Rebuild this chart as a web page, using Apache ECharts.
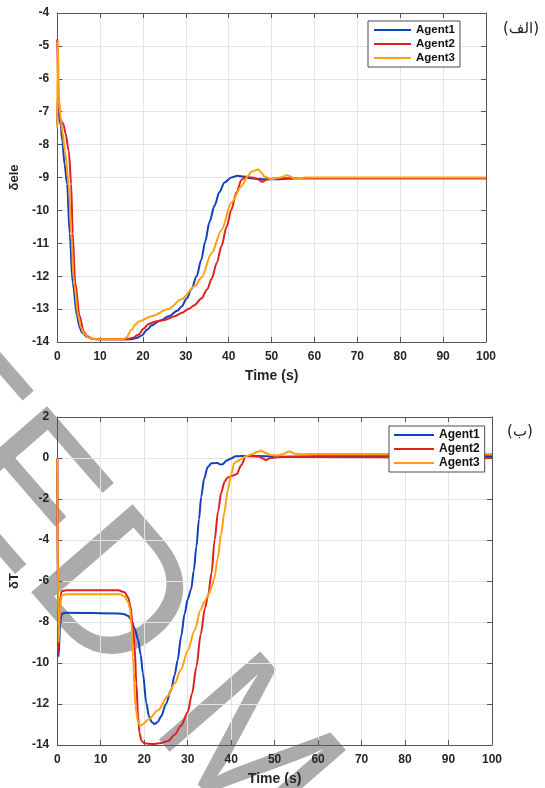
<!DOCTYPE html>
<html><head><meta charset="utf-8">
<script src="https://cdn.jsdelivr.net/npm/echarts@6/dist/echarts.min.js"></script>
<style>html,body{margin:0;padding:0;background:#fff}#c{width:545px;height:788px}</style>
</head><body><div id="c"></div><script>
// Elevator deflection δele (top panel), [time s, value]
const eleAgent1 = [[0,-7.4],[0.15,-6.4],[0.35,-7.0],[0.8,-7.4],[1.2,-7.9],[1.7,-8.6],[2.3,-9.2],[2.9,-10.7],[3.6,-12.2],[4.6,-13.2],[5.2,-13.55],[5.8,-13.72],[7,-13.85],[8.5,-13.91],[10,-13.92],[17,-13.92],[18.5,-13.88],[19.7,-13.8],[21,-13.62],[22,-13.5],[24,-13.35],[26,-13.22],[28,-13.05],[29,-12.92],[30.2,-12.68],[31.3,-12.4],[32.5,-12.0],[33.6,-11.5],[34.5,-10.95],[35.5,-10.35],[36.7,-9.85],[37.8,-9.45],[39,-9.15],[40.6,-9.0],[42,-8.95],[43.5,-8.97],[45,-9.02],[48,-9.05],[52,-9.05],[55,-9.03],[60,-9.02],[100,-9.02]];
const eleAgent2 = [[0,-4.8],[0.3,-6.5],[0.6,-7.2],[1.0,-7.3],[1.5,-7.4],[1.9,-7.65],[2.7,-8.2],[3.25,-9.2],[3.6,-10.7],[4.2,-12.2],[5.2,-13.2],[6.2,-13.7],[7,-13.82],[8.1,-13.9],[10,-13.92],[16,-13.92],[17.5,-13.88],[19,-13.77],[20.1,-13.6],[21.3,-13.45],[23,-13.38],[25,-13.33],[27.4,-13.22],[29,-13.12],[30.6,-13.0],[32,-12.88],[33.6,-12.68],[35,-12.4],[36,-12.08],[37.2,-11.6],[38.3,-11.09],[39.5,-10.5],[40.6,-9.98],[41.8,-9.45],[43,-9.07],[44,-8.98],[45.5,-9.0],[46.8,-9.05],[47.8,-9.13],[49,-9.05],[51,-9.02],[100,-9.02]];
const eleAgent3 = [[0,-7.5],[0.12,-4.85],[0.4,-6.6],[0.8,-7.2],[1.2,-7.6],[1.8,-8.2],[2.7,-9.2],[3.25,-10.7],[3.9,-12.2],[4.9,-13.2],[5.5,-13.55],[6.2,-13.75],[7.5,-13.88],[9,-13.92],[15,-13.92],[16,-13.88],[17.4,-13.62],[18.2,-13.47],[19,-13.38],[22,-13.22],[25.9,-13.0],[29,-12.7],[32.1,-12.3],[33.6,-12.05],[36,-11.3],[38.3,-10.6],[40.6,-9.77],[43,-9.26],[44.5,-8.95],[45.3,-8.82],[46.9,-8.76],[47.6,-8.85],[48.3,-8.97],[50,-9.05],[52,-9.0],[53.6,-8.93],[55.5,-9.03],[58,-9.0],[100,-9.0]];

// Throttle δT (bottom panel), [time s, value]
const thrAgent1 = [[0,0],[0.3,-9.7],[0.7,-8.0],[1.0,-7.6],[2,-7.55],[14,-7.58],[15.4,-7.62],[16.3,-7.7],[17,-7.9],[17.8,-8.3],[18.6,-8.87],[19.2,-9.6],[19.7,-10.5],[20.5,-11.96],[21.1,-12.6],[21.7,-12.88],[22.4,-12.97],[23.1,-12.88],[23.9,-12.6],[25,-12.0],[26.2,-11.3],[27,-10.6],[27.7,-9.85],[28.5,-8.7],[29.3,-7.6],[30,-6.9],[30.8,-6.4],[31.4,-5.5],[32,-4.33],[32.6,-3.0],[33.1,-1.9],[33.8,-1.0],[34.6,-0.44],[35.5,-0.26],[36.9,-0.24],[37.5,-0.32],[38,-0.3],[39,-0.12],[40,-0.02],[41,0.08],[42.3,0.1],[46,0.1],[50,0.06],[60,0.08],[100,0.08]];
const thrAgent2 = [[0,0],[0.25,-9.5],[0.6,-7.0],[1.0,-6.5],[2,-6.45],[14,-6.45],[15.5,-6.55],[16.3,-6.8],[16.8,-7.2],[17.3,-8.0],[17.8,-9.2],[18.2,-11.0],[18.6,-12.6],[18.9,-13.4],[19.4,-13.8],[20.1,-13.92],[22,-13.95],[24,-13.9],[25.5,-13.8],[27,-13.5],[28.5,-13.05],[30,-12.4],[31,-11.5],[32,-10.2],[33,-8.6],[34,-7.3],[34.7,-6.7],[35.5,-5.6],[36.2,-4.0],[37,-2.6],[37.7,-1.7],[38.5,-1.15],[39.2,-0.95],[40.5,-0.85],[41.3,-0.78],[42.3,-0.35],[43.4,0.1],[45,0.08],[46.5,0.06],[47.3,-0.02],[48,-0.1],[49,0.0],[51,0.05],[60,0.05],[100,0.0]];
const thrAgent3 = [[0,0],[0.3,-9.0],[0.6,-7.5],[1.0,-6.7],[2,-6.65],[14.5,-6.65],[15.5,-6.75],[16.2,-7.0],[16.7,-7.3],[17.1,-8.2],[17.4,-9.7],[18,-12.1],[18.5,-12.8],[19,-13.05],[19.6,-13.0],[21,-12.75],[23.2,-12.3],[25.5,-11.6],[27,-11.0],[28.5,-10.3],[30,-9.4],[31.6,-8.4],[33,-7.4],[33.9,-7.0],[34.7,-6.7],[35.5,-6.3],[36.1,-5.9],[36.9,-4.9],[37.7,-3.7],[38.4,-2.7],[39.2,-1.6],[40,-0.8],[40.7,-0.25],[41.5,-0.15],[42.3,-0.05],[43.5,0.1],[45,0.2],[46,0.3],[46.9,0.35],[48,0.25],[49,0.15],[50.5,0.12],[52,0.2],[53.4,0.32],[54.5,0.22],[56,0.18],[60,0.2],[100,0.2]];

const agentNames = ['Agent1', 'Agent2', 'Agent3'];
const agentColors = ['#1040c0', '#e02020', '#ffa010'];
const timeRange = [0, 100, 10];          // min, max, step
const eleRange = [-14, -4, 1];
const thrRange = [-14, 2, 2];
const panelLabels = ['(الف)', '(ب)'];
const yNames = ['δele', 'δT'];
const xName = 'Time (s)';
const stampText = 'ACCEPTED MANUSCRIPT';

const FONT = 'Liberation Sans, Arial, sans-serif';
const AX = '#555555';
const TXT = '#262626';

function xPair(gi) {
  const base = {
    type: 'value', gridIndex: gi, min: timeRange[0], max: timeRange[1], interval: timeRange[2],
    axisLine: { show: true, onZero: false, lineStyle: { color: AX, width: 1 } },
    axisTick: { show: true, inside: true, length: 5, lineStyle: { color: AX } }
  };
  return [
    Object.assign({}, base, {
      position: 'bottom',
      axisLabel: { margin: 9, fontWeight: 'bold', fontSize: 12, color: TXT, fontFamily: FONT },
      splitLine: { show: true, lineStyle: { color: '#e4e4e4', width: 1 } },
      name: xName, nameLocation: 'middle', nameGap: 27,
      nameTextStyle: { fontWeight: 'bold', fontSize: 14, color: TXT, fontFamily: FONT }
    }),
    Object.assign({}, base, { position: 'top', axisLabel: { show: false }, splitLine: { show: false } })
  ];
}
function yPair(gi, r, nm) {
  const base = {
    type: 'value', gridIndex: gi, min: r[0], max: r[1], interval: r[2],
    axisLine: { show: true, onZero: false, lineStyle: { color: AX, width: 1 } },
    axisTick: { show: true, inside: true, length: 5, lineStyle: { color: AX } }
  };
  return [
    Object.assign({}, base, {
      position: 'left',
      axisLabel: { margin: 8, fontWeight: 'bold', fontSize: 12, color: TXT, fontFamily: FONT },
      splitLine: { show: true, lineStyle: { color: '#e4e4e4', width: 1 } },
      name: nm, nameLocation: 'middle', nameGap: 25, nameRotate: 90,
      nameTextStyle: { fontWeight: 'bold', fontSize: 13, color: TXT, fontFamily: FONT }
    }),
    Object.assign({}, base, { position: 'right', axisLabel: { show: false }, splitLine: { show: false } })
  ];
}
function lines(datasets, xi, yi) {
  return datasets.map((d, i) => ({
    name: agentNames[i], type: 'line', xAxisIndex: xi, yAxisIndex: yi,
    data: d, symbol: 'none', showSymbol: false, smooth: 0.3, smoothMonotone: 'x',
    clip: true, z: 3,
    lineStyle: { color: agentColors[i], width: 2 }, itemStyle: { color: agentColors[i] }
  }));
}
function legendAt(left, top, w, fs, pad) {
  return {
    data: agentNames, orient: 'vertical', left: left, top: top,
    itemWidth: w, itemHeight: 14, itemGap: 2, padding: pad,
    backgroundColor: '#fff', borderColor: '#4d4d4d', borderWidth: 1, borderRadius: 0,
    itemStyle: { opacity: 0 },
    lineStyle: { width: 2, opacity: 1 },
    textStyle: { fontWeight: 'bold', fontSize: fs, color: '#111', fontFamily: FONT },
    selectedMode: false
  };
}

const chart = echarts.init(document.getElementById('c'), null, { renderer: 'canvas' });
chart.setOption({
  animation: false,
  backgroundColor: '#fff',
  grid: [
    { left: 55, top: 13, width: 431, height: 329, containLabel: false },
    { left: 56, top: 417, width: 436, height: 328, containLabel: false }
  ],
  xAxis: xPair(0).concat(xPair(1)),
  yAxis: yPair(0, eleRange, yNames[0]).concat(yPair(1, thrRange, yNames[1])),
  legend: [
    legendAt(368, 21, 37, 11.5, [3, 5, 3, 5]),
    legendAt(389, 426, 40, 12, [3, 5, 3, 4])
  ],
  series: lines([eleAgent1, eleAgent2, eleAgent3], 0, 0)
    .concat(lines([thrAgent1, thrAgent2, thrAgent3], 2, 2)),
  graphic: [
    {
      type: 'text', x: -543, y: -150, rotation: -49 * Math.PI / 180, z: -1, silent: true,
      style: { text: stampText, fill: '#ababab', font: '195px Liberation Sans, Arial, sans-serif',
               textAlign: 'left', textVerticalAlign: 'middle' }
    },
    {
      type: 'text', x: 521, y: 29, z: 5,
      style: { text: panelLabels[0], fill: '#222', font: '15px DejaVu Sans, sans-serif',
               textAlign: 'center', textVerticalAlign: 'middle' }
    },
    {
      type: 'text', x: 520, y: 432, z: 5,
      style: { text: panelLabels[1], fill: '#222', font: '15px DejaVu Sans, sans-serif',
               textAlign: 'center', textVerticalAlign: 'middle' }
    }
  ]
});
</script></body></html>
